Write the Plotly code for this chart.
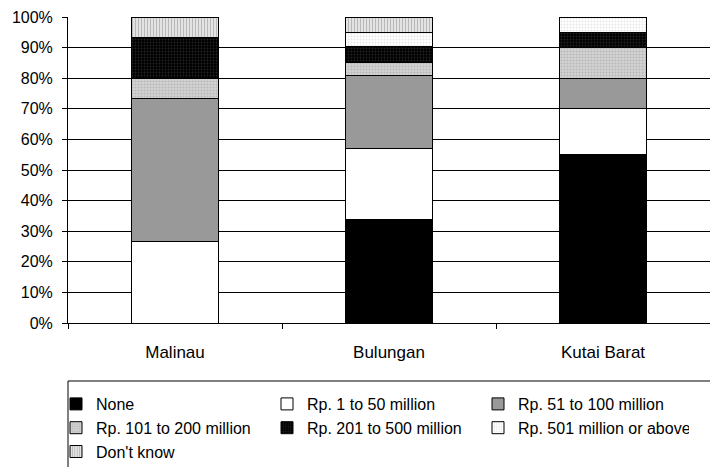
import plotly.graph_objects as go

categories = ["Malinau", "Bulungan", "Kutai Barat"]
series_names = ["None", "Rp. 1 to 50 million", "Rp. 51 to 100 million",
                "Rp. 101 to 200 million", "Rp. 201 to 500 million",
                "Rp. 501 million or above", "Don't know"]
none_vals = [0, 33.7, 55]
rp1_50 = [26.7, 23.2, 15]
rp51_100 = [46.6, 23.9, 10]
rp101_200 = [6.7, 4.4, 10]
rp201_500 = [13.3, 5.1, 5]
rp501_up = [0, 4.6, 5]
dont_know = [6.7, 5.1, 0]
values = [none_vals, rp1_50, rp51_100, rp101_200, rp201_500, rp501_up, dont_know]
y_ticks = [0, 10, 20, 30, 40, 50, 60, 70, 80, 90, 100]
y_tick_labels = ["0%", "10%", "20%", "30%", "40%", "50%", "60%", "70%", "80%", "90%", "100%"]

styles = [
    dict(color="#000000"),
    dict(color="#ffffff"),
    dict(color="#999999"),
    dict(color="#cccccc", pattern=dict(shape=".", fgcolor="#999999", bgcolor="#d4d4d4", size=3, solidity=0.4)),
    dict(color="#000000", pattern=dict(shape=".", fgcolor="#444444", bgcolor="#000000", size=3, solidity=0.3)),
    dict(color="#ffffff", pattern=dict(shape=".", fgcolor="#cccccc", bgcolor="#ffffff", size=3, solidity=0.3)),
    dict(color="#dddddd", pattern=dict(shape="|", fgcolor="#888888", bgcolor="#e8e8e8", size=3, solidity=0.4)),
]

FONT = "Liberation Sans, Arial, sans-serif"
fig = go.Figure()
for name, vals, st in zip(series_names, values, styles):
    fig.add_trace(go.Bar(
        x=categories, y=vals, name=name,
        marker=dict(line=dict(color="#000000", width=1), **st),
    ))

fig.update_layout(
    barmode="stack", bargap=0.59,
    width=710, height=467,
    margin=dict(l=68, r=0, t=17, b=144),
    paper_bgcolor="white", plot_bgcolor="white",
    font=dict(family=FONT, size=16, color="#000000"),
    showlegend=True,
    legend=dict(orientation="h", xref="container", yref="container",
                x=56/710, xanchor="left", y=1 - 387/467, yanchor="top",
                traceorder="normal", entrywidth=166, entrywidthmode="pixels",
                font=dict(size=16), itemwidth=30, tracegroupgap=0,
                bgcolor="rgba(0,0,0,0)"),
    yaxis=dict(range=[0, 100], tickvals=y_ticks, ticktext=y_tick_labels,
               showgrid=True, gridcolor="#000000", gridwidth=1,
               showline=True, linecolor="#000000", linewidth=1,
               ticks="outside", ticklen=5, tickcolor="#000000", zeroline=False,
               ticklabelstandoff=6, automargin=False, tickfont=dict(size=16)),
    xaxis=dict(showline=True, linecolor="#000000", linewidth=1,
               ticks="outside", ticklen=5, tickcolor="#000000", tickson="boundaries",
               showgrid=False, ticklabelstandoff=14, automargin=False,
               tickfont=dict(size=17)),
    shapes=[dict(type="rect", xref="paper", yref="paper", x0=0, x1=1.01,
                 y0=-0.5, y1=-58/306, line=dict(color="#000000", width=1))],
)

fig.write_html("out.html", config={"displayModeBar": False},
               post_script="document.body.style.margin='0';document.body.style.padding='0';")
